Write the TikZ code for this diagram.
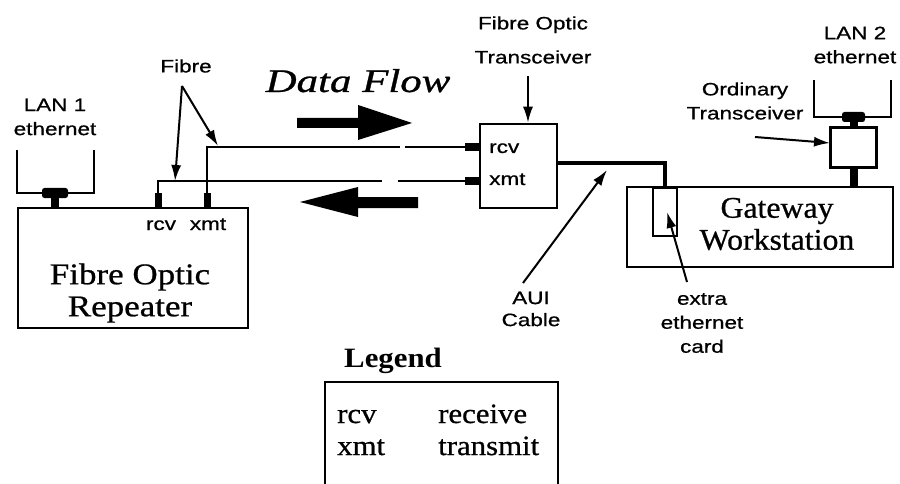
\documentclass[tikz,border=0pt]{standalone}
\usepackage{fontspec}
\setmainfont{Liberation Serif}
\setsansfont{Liberation Sans}
\newfontfamily\hvsans{Liberation Sans}[FakeBold=0.7]
\newfontfamily\hvserif{Liberation Serif}[FakeBold=0.7]
\usetikzlibrary{arrows.meta}
\begin{document}
\begin{tikzpicture}[x=1pt,y=-1pt,
  ln/.style={line width=2pt},
  boxn/.style={draw, line width=2.6pt, inner sep=0pt},
  portn/.style={fill=black, draw=none, inner sep=0pt},
  tbar/.style={fill=black, draw=none, inner sep=0pt, rounded corners=2.5pt, minimum height=10pt},
  sanslab/.style={font=\hvsans\fontsize{18}{24}\selectfont, align=center, inner sep=0pt, xscale=1.25},
  serlab/.style={font=\hvserif\fontsize{30}{32}\selectfont, align=center, inner sep=0pt, xscale=1.06},
  legtxt/.style={font=\hvserif\fontsize{28}{30}\selectfont, inner sep=0pt, xscale=1.1, anchor=base west},
  pointer/.style={line width=2pt, -{Latex[length=16pt,width=10pt]}},
  cable/.style={line width=4.5pt},
  stem/.style={line width=8pt}
]
\useasboundingbox (0,0) rectangle (900,484);

% main boxes
\node[boxn, minimum width=230pt, minimum height=120pt] (rep) at (133,268) {};
\node[serlab, xscale=1.1] (reptxt) at (130,293) {Fibre Optic\\Repeater};
\node[boxn, minimum width=77pt, minimum height=84pt] (xcv) at (518.5,166) {};
\node[boxn, minimum width=266pt, minimum height=80pt] (gw) at (760,227) {};
\node[serlab] (gwtxt) at (777,224) {Gateway\\Workstation};
\node[boxn, line width=2pt, minimum width=24pt, minimum height=48pt, anchor=north] (card) at (665,187) {};
\node[boxn, minimum width=46pt, minimum height=40pt] (ot) at (853.5,147.5) {};

% ports
\node[portn, minimum width=7pt, minimum height=15pt, anchor=south] (reprcv) at (158,208) {};
\node[portn, minimum width=7pt, minimum height=15pt, anchor=south] (repxmt) at (207,208) {};
\node[portn, minimum width=15pt, minimum height=8pt, anchor=east] (xcvrcv) at (480,147) {};
\node[portn, minimum width=15pt, minimum height=8pt, anchor=east] (xcvxmt) at (480,181) {};

% LAN 1
\node[tbar, minimum width=26pt] (tb1) at (55,193) {};
\draw[stem] (tb1.south) -- (tb1.south |- rep.north);
\coordinate (l1a) at (17,150);
\coordinate (l1b) at (94,150);
\draw[ln] (l1a) |- (l1b |- tb1) -- (l1b);
\node[sanslab] (lan1) at (55,117) {LAN 1\\ethernet};

% LAN 2
\node[tbar, minimum width=23pt] (tb2) at (853.5,117) {};
\draw[stem] (tb2.south) -- (tb2.south |- ot.north);
\draw[stem] (ot.south) -- (ot.south |- gw.north);
\coordinate (l2a) at (814,80);
\coordinate (l2b) at (891,80);
\draw[ln] (l2a) |- (l2b |- tb2) -- (l2b);
\node[sanslab] (lan2) at (855,45) {LAN 2\\ethernet};

% fibre lines
\coordinate (gb1) at (382,181);
\coordinate (gb2) at (398,181);
\coordinate (gt1) at (400,147);
\coordinate (gt2) at (405,147);
\draw[ln] (reprcv.north) |- (gb1);
\draw[ln] (gb2) -- (xcvxmt.west);
\draw[ln] (repxmt.north) |- (gt1);
\draw[ln] (gt2) -- (xcvrcv.west);

% AUI cable
\coordinate (auic) at (665,163);
\draw[cable] (xcv.east |- auic) -| (card.north);

% port labels
\node[sanslab, anchor=base] (rrcv) at (161,230) {rcv};
\node[sanslab, anchor=base] (rxmt) at (208,230) {xmt};
\node[sanslab, anchor=base west] (trcv) at (489,153) {rcv};
\node[sanslab, anchor=base west] (txmt) at (489,185) {xmt};

% Data flow
\node[font=\hvserif\itshape\fontsize{33}{36}\selectfont, inner sep=0pt, anchor=base, xscale=1.3] (df) at (358,92) {Data Flow};
\fill (297,118) -- (358,118) -- (358,105) -- (412,123) -- (358,140) -- (358,128) -- (297,128) -- cycle;
\fill (418,197) -- (358,197) -- (358,187) -- (300,202) -- (358,217) -- (358,208) -- (418,208) -- cycle;

% labels with pointers
\node[sanslab] (fib) at (186,66) {Fibre};
\coordinate (fs) at (182,86);
\coordinate (f1) at (175,181);
\coordinate (f2) at (218,146);
\draw[pointer] (fs) -- (f1);
\draw[pointer] (fs) -- (f2);

\node[sanslab, font=\hvsans\fontsize{18}{34}\selectfont] (fot) at (533,40) {Fibre Optic\\Transceiver};
\coordinate (fots) at (528,76);
\draw[pointer] (fots) -- (fots |- xcv.north);

\node[sanslab] (ord) at (745,101) {Ordinary\\Transceiver};
\coordinate (ords) at (755,137);
\coordinate (ordt) at (830,143);
\draw[pointer] (ords) -- (ordt);

\node[sanslab, font=\hvsans\fontsize{18}{22}\selectfont] (auil) at (531,309) {AUI\\Cable};
\coordinate (auis) at (523,283);
\coordinate (auit) at (607,170);
\draw[pointer] (auis) -- (auit);

\node[sanslab] (extra) at (702,323) {extra\\ethernet\\card};
\coordinate (exs) at (687,282);
\coordinate (ext) at (667,212);
\draw[pointer] (exs) -- (ext);

% legend
\node[font=\bfseries\fontsize{28}{30}\selectfont, inner sep=0pt, anchor=base, xscale=1.1] (legt) at (393,367) {Legend};
\node[boxn, line width=2pt, minimum width=233pt, minimum height=110pt, anchor=north] (leg) at (441.5,381) {};
\node[legtxt] (lg1) at (337,423) {rcv};
\node[legtxt] (lg2) at (438,423) {receive};
\node[legtxt] (lg3) at (337,455) {xmt};
\node[legtxt] (lg4) at (438,455) {transmit};
\end{tikzpicture}
\end{document}
